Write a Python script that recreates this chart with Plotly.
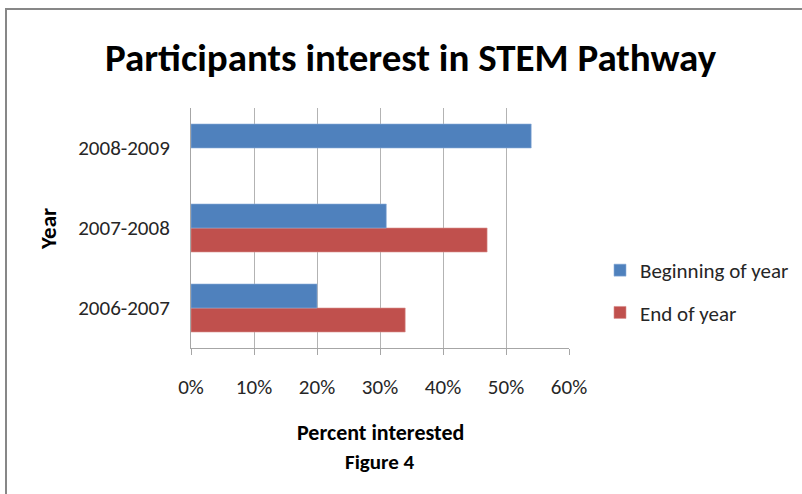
import plotly.graph_objects as go

years = ["2006-2007", "2007-2008", "2008-2009"]
beginning = [0.20, 0.31, 0.54]
end_of_year = [0.34, 0.47, None]
x_ticks = [0, 0.1, 0.2, 0.3, 0.4, 0.5, 0.6]
x_tick_labels = ["0%", "10%", "20%", "30%", "40%", "50%", "60%"]

FONT = "Carlito, Calibri, 'Liberation Sans Narrow', 'Open Sans', sans-serif"
W, H = 802, 494
L, R, T, B = 191, 233, 108, 146

def px_x(p):
    return (p - L) / (W - L - R)

def px_y(p):
    return (H - B - p) / (H - T - B)

fig = go.Figure()
fig.add_trace(go.Bar(y=years, x=end_of_year, orientation="h", name="End of year",
                     legendgroup="end", legendrank=2,
                     marker=dict(color="#C0504D", line=dict(color="#D9908E", width=0.6))))
fig.add_trace(go.Bar(y=years, x=beginning, orientation="h", name="Beginning of year",
                     legendgroup="begin", legendrank=1,
                     marker=dict(color="#4F81BD", line=dict(color="#8FAEDA", width=0.6))))

fig.update_layout(
    width=W, height=H,
    margin=dict(l=L, r=R, t=T, b=B, autoexpand=False),
    paper_bgcolor="white", plot_bgcolor="white",
    barmode="group", bargap=0.4, bargroupgap=0,
    font=dict(family=FONT, size=21, color="#262626"),
    showlegend=True,
    legend=dict(xref="container", yref="container",
                x=600 / W, y=(H - 250) / H, xanchor="left", yanchor="top",
                traceorder="grouped", tracegroupgap=12,
                font=dict(size=21, color="#262626"),
                bgcolor="rgba(0,0,0,0)", itemclick=False),
    xaxis=dict(range=[0, 0.6], tickvals=x_ticks, ticktext=x_tick_labels,
               showgrid=True, gridcolor="#B3B3B3", gridwidth=1,
               showline=True, linecolor="#A6A6A6", linewidth=1,
               ticks="outside", ticklen=6, tickcolor="#A6A6A6",
               tickfont=dict(size=21, color="#262626"), ticklabelstandoff=14,
               zeroline=False, fixedrange=True),
    yaxis=dict(showgrid=False, showline=True, linecolor="#A6A6A6", linewidth=1,
               ticks="", tickfont=dict(size=21, color="#262626"),
               ticklabelstandoff=16, fixedrange=True),
)

fig.add_annotation(text="<b>Participants interest in STEM Pathway</b>", x=px_x(411), y=px_y(57),
                   xref="paper", yref="paper", showarrow=False, font=dict(size=39, color="black"),
                   xanchor="center", yanchor="middle")
fig.add_annotation(text="<b>Year</b>", x=px_x(48), y=px_y(229), xref="paper", yref="paper",
                   showarrow=False, textangle=-90, font=dict(size=23, color="black"),
                   xanchor="center", yanchor="middle")
fig.add_annotation(text="<b>Percent interested</b>", x=px_x(380), y=px_y(432), xref="paper", yref="paper",
                   showarrow=False, font=dict(size=22, color="black"), xanchor="center", yanchor="middle")
fig.add_annotation(text="<b>Figure 4</b>", x=px_x(380), y=px_y(462), xref="paper", yref="paper",
                   showarrow=False, font=dict(size=21, color="black"), xanchor="center", yanchor="middle")

# outer chart border (extends past right and bottom edges of the window)
fig.add_shape(type="path", xref="paper", yref="paper",
              path=f"M {px_x(6)} {px_y(600)} L {px_x(6)} {px_y(9)} L {px_x(900)} {px_y(9)}",
              line=dict(color="#878787", width=2))

fig.write_html("out.html", config={"displayModeBar": False},
               post_script="document.body.style.margin='0';")
